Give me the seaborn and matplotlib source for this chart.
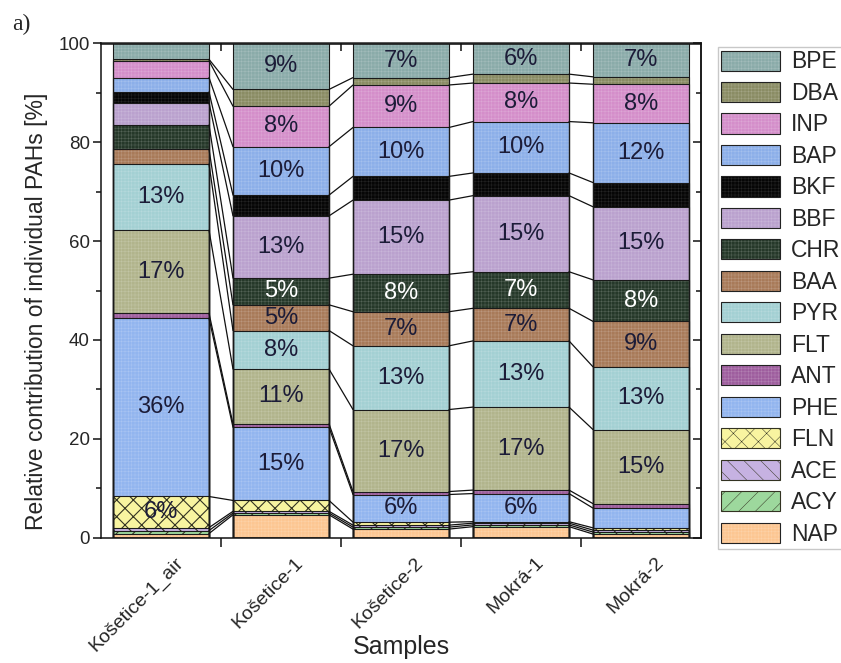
import numpy as np
import pandas as pd
import matplotlib
matplotlib.use("Agg")
import matplotlib.pyplot as plt
from matplotlib.patches import Patch
from matplotlib.colors import to_rgb
from matplotlib.ticker import MultipleLocator, FixedLocator, NullFormatter
from matplotlib.transforms import ScaledTranslation
import seaborn as sns

# ---- data -----------------------------------------------------------------
samples = ["Košetice-1_air", "Košetice-1", "Košetice-2", "Mokrá-1", "Mokrá-2"]
compounds = ["NAP", "ACY", "ACE", "FLN", "PHE", "ANT", "FLT", "PYR",
             "BAA", "CHR", "BBF", "BKF", "BAP", "INP", "DBA", "BPE"]

# relative contribution of each PAH [%], stacked bottom (NAP) -> top (BPE)
kosetice1_air = [0.8, 0.6, 0.6, 6.3, 36.1, 1.0, 16.8, 13.4, 3.0, 4.9, 4.5, 2.2, 2.9, 3.4, 0.3, 3.2]
kosetice1 = [4.6, 0.35, 0.35, 2.2, 14.8, 0.7, 11.1, 7.8, 5.2, 5.4, 12.6, 4.2, 9.8, 8.2, 3.4, 9.3]
kosetice2 = [1.7, 0.4, 0.4, 0.6, 5.6, 0.6, 16.6, 12.9, 6.9, 7.6, 15.0, 4.8, 9.9, 8.6, 1.5, 6.9]
mokra1 = [2.2, 0.35, 0.35, 0.3, 5.7, 0.7, 16.8, 13.4, 6.6, 7.4, 15.4, 4.6, 10.4, 7.8, 1.8, 6.2]
mokra2 = [0.7, 0.4, 0.4, 0.45, 4.0, 0.9, 15.0, 12.7, 9.2, 8.4, 14.8, 4.9, 12.1, 7.8, 1.5, 6.75]

# ---- styles ---------------------------------------------------------------
face_colors = {
    "NAP": "#FCC692", "ACY": "#9DD89D", "ACE": "#C6B2E2", "FLN": "#F8F4A0",
    "PHE": "#92B5EF", "ANT": "#9E5E9E", "FLT": "#B1B48C", "PYR": "#A3D0D3",
    "BAA": "#A87A59", "CHR": "#253829", "BBF": "#BAA1CE", "BKF": "#060606",
    "BAP": "#8CAFE9", "INP": "#D48ECA", "DBA": "#8A8C64", "BPE": "#8AABA9",
}
line_hatch = {"ACY": "//", "ACE": "\\\\", "FLN": "xx"}
mesh = "+++++"


def mesh_color(c):
    """Thin grid lines: a light tint of the fill (dark grey on black)."""
    r, g, b = to_rgb(c)
    if r + g + b < 0.3:
        return (0.15, 0.15, 0.15)
    return tuple(v + 0.22 * (1 - v) for v in (r, g, b))


values = pd.DataFrame(
    [kosetice1_air, kosetice1, kosetice2, mokra1, mokra2],
    index=samples, columns=compounds,
)
tops = values.cumsum(axis=1)
bottoms = tops - values

long = (tops.reset_index(names="sample")
        .melt(id_vars="sample", var_name="compound", value_name="top"))

# ---- figure ---------------------------------------------------------------
sns.set_theme(style="ticks")
plt.rcParams["font.family"] = ["Liberation Sans", "DejaVu Sans"]
plt.rcParams["axes.linewidth"] = 1.1
plt.rcParams["hatch.linewidth"] = 0.35

fig = plt.figure(figsize=(8.41, 6.63), dpi=100)
ax = fig.add_axes([101 / 841, 1 - 537.5 / 663, 600 / 841, 494 / 663])

width = 0.8
# cumulative layers drawn from the top compound down, each covering the ones below
for comp in reversed(compounds):
    sub = long[long["compound"] == comp]
    fc = face_colors[comp]
    if comp in line_hatch:
        with plt.rc_context({"hatch.linewidth": 0.8}):
            sns.barplot(data=sub, x="sample", y="top", order=samples, color=fc,
                        saturation=1, width=width, errorbar=None, linewidth=0,
                        edgecolor="#333322", hatch=line_hatch[comp], ax=ax)
    else:
        sns.barplot(data=sub, x="sample", y="top", order=samples, color=fc,
                    saturation=1, width=width, errorbar=None, linewidth=0,
                    edgecolor=mesh_color(fc), hatch=mesh, ax=ax)
for comp in reversed(compounds):
    sub = long[long["compound"] == comp]
    sns.barplot(data=sub, x="sample", y="top", order=samples, color="#1a1a1a",
                fill=False, width=width, errorbar=None, linewidth=0.8, ax=ax)

# connector lines between segment tops of neighbouring bars
for comp in compounds:
    y = tops[comp].to_numpy()
    for i in range(len(samples) - 1):
        ax.plot([i + width / 2, i + 1 - width / 2], [y[i], y[i + 1]],
                color="#111111", lw=0.9, zorder=3)

# percentage labels
for i, s in enumerate(samples):
    for comp in compounds:
        v = values.loc[s, comp]
        if v >= 5:
            ax.text(i, bottoms.loc[s, comp] + v / 2, f"{v:.0f}%",
                    ha="center", va="center", fontsize=17,
                    color="white" if comp == "CHR" else "#1c1c38", zorder=4)

# ---- axes -----------------------------------------------------------------
ax.set_xlim(-0.5, len(samples) - 0.5)
ax.set_ylim(0, 100)
ax.set_xlabel("Samples", fontsize=18)
ax.xaxis.set_label_coords(0.5, -0.198)
ax.set_ylabel("Relative contribution of individual PAHs [%]", fontsize=16.5)
ax.yaxis.set_label_coords(-0.088, 0.458)

ax.set_xticks(range(len(samples)))
ax.set_xticklabels(samples, rotation=45, ha="right", va="top",
                   rotation_mode="anchor", fontsize=14)
ax.tick_params(axis="x", which="major", length=0, pad=12)
shift = ScaledTranslation(0.14, 0, fig.dpi_scale_trans)
for lab in ax.get_xticklabels():
    lab.set_transform(lab.get_transform() + shift)
ax.xaxis.set_minor_locator(FixedLocator(np.arange(0.5, len(samples) - 1, 1)))
ax.tick_params(axis="x", which="minor", length=6.5, width=1.1, direction="out",
               color="#111111")

ax.yaxis.set_major_locator(MultipleLocator(20))
ax.yaxis.set_minor_locator(MultipleLocator(10))
ax.tick_params(axis="y", which="major", length=6, width=1.1, direction="out",
               labelsize=13.5, pad=2, color="#111111")
ax.tick_params(axis="y", which="minor", length=3.5, width=1.1, direction="out",
               color="#111111")
for sp in ax.spines.values():
    sp.set_visible(True)
    sp.set_color("#111111")

top = ax.secondary_xaxis("top")
top.set_xticks(np.arange(0.5, len(samples) - 1, 1))
top.tick_params(direction="in", length=6, width=1.1, labeltop=False, color="#111111")
top.xaxis.set_major_formatter(NullFormatter())
right = ax.secondary_yaxis("right")
right.yaxis.set_major_locator(MultipleLocator(20))
right.yaxis.set_minor_locator(MultipleLocator(10))
right.tick_params(which="major", direction="in", length=6, width=1.1,
                  labelright=False, color="#111111")
right.tick_params(which="minor", direction="in", length=3.5, width=1.1,
                  color="#111111")
right.yaxis.set_major_formatter(NullFormatter())

# ---- legend ---------------------------------------------------------------
handles, labels = [], []
for comp in reversed(compounds):
    fc = face_colors[comp]
    if comp in line_hatch:
        with plt.rc_context({"hatch.linewidth": 0.8}):
            h = Patch(facecolor=fc, edgecolor="#333322", hatch=line_hatch[comp], lw=0.8)
    else:
        h = (Patch(facecolor=fc, edgecolor=mesh_color(fc), hatch=mesh, lw=0),
             Patch(facecolor="none", edgecolor="#222222", lw=0.8))
    handles.append(h)
    labels.append(comp)

leg = fig.legend(handles, labels, loc="upper left",
                 bbox_to_anchor=(718 / 841, 1 - 47 / 663),
                 bbox_transform=fig.transFigure, borderaxespad=0,
                 fontsize=16.5, handlelength=2.55, handleheight=0.97,
                 handletextpad=0.5, labelspacing=0.37, borderpad=0.15,
                 fancybox=False, framealpha=1, edgecolor="#c8c8c8")
leg.get_frame().set_linewidth(1.0)

fig.text(12 / 841, 1 - 30 / 663, "a)", family=["Liberation Serif", "DejaVu Serif"],
         fontsize=17, ha="left", va="baseline")

fig.savefig("out.png", dpi=100)
